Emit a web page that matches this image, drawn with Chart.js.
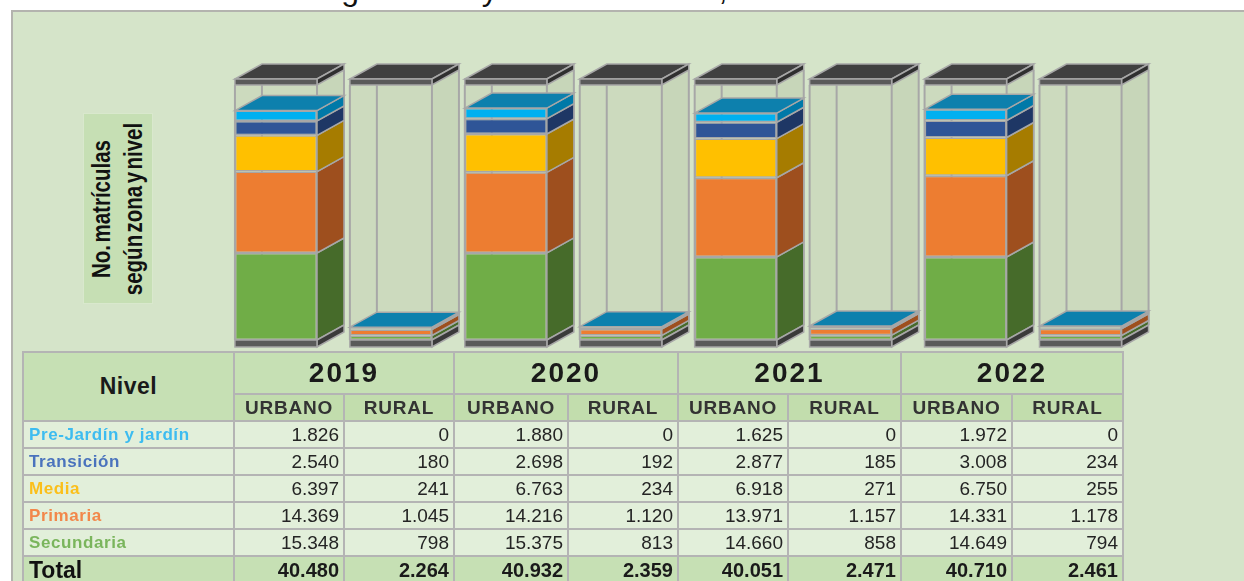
<!DOCTYPE html>
<html>
<head>
<meta charset="utf-8">
<script src="https://cdn.jsdelivr.net/npm/chart.js@4"></script>
<style>
  html, body { margin: 0; padding: 0; }
  body { width: 1244px; height: 581px; position: relative; overflow: hidden; background: #fff; font-family: "Liberation Sans", Arial, sans-serif; }
  #title { position: absolute; left: 151px; top: -27px; font-size: 32px; line-height: 32px; color: #111; white-space: nowrap; }
  #panel { position: absolute; left: 11px; top: 10px; width: 1240px; height: 580px; background: #d5e4c9; border-left: 2px solid #b3b3ae; border-top: 2px solid #b3b3ae; }
  #chart { position: absolute; left: 0; top: 0; }
  #ylabel { position: absolute; left: 83px; top: 113px; width: 70px; height: 191px; background: #c6dfb4; box-sizing: border-box; border: 1px solid #d9e8cd; }
  #ylabel div { position: absolute; left: 50%; top: 50%; width: 230px; margin-left: -115px; margin-top: -33px; height: 66px;
    transform: rotate(-90deg) scale(0.82, 1); text-align: center; font-weight: bold; font-size: 25px; line-height: 32px; color: #111; word-spacing: -4px; }
  table { position: absolute; left: 22px; top: 351px; border-collapse: collapse; table-layout: fixed; border: 2px solid #b2b2b2; }
  td, th { border: 2px solid #b4b4b4; padding: 0 4px; overflow: hidden; white-space: nowrap; }
  th { background: #c6e0b4; color: #1a1a1a; }
  th.nivel { font-size: 23px; letter-spacing: 0.5px; }
  th.year { font-size: 28px; letter-spacing: 2px; height: 40px; }
  th.zone { font-size: 19px; letter-spacing: 0.8px; color: #333; height: 25px; background: #c2ddad; }
  td { background: #e2efda; font-size: 19px; color: #242424; text-align: right; height: 25px; }
  td.lvl { text-align: left; font-weight: bold; font-size: 17px; letter-spacing: 0.6px; padding-left: 5px; }
  tr.total td { background: #c6e0b4; font-weight: bold; font-size: 20px; color: #1a1a1a; height: 27px; }
  tr.total td.lvl { font-size: 23px; color: #111; letter-spacing: 0; }
</style>
</head>
<body>
<div id="title">Matrículas según zona y nivel educativo, 2019-2022</div>
<div id="panel"></div>
<div id="ylabel"><div>No. matrículas<br>según zona y nivel</div></div>
<canvas id="chart" width="1244" height="581"></canvas>
<table id="tbl"></table>
<script>
// categories
const years = ['2019', '2020', '2021', '2022'];
const zones = ['URBANO', 'RURAL'];
const levels = ['Pre-Jardín y jardín', 'Transición', 'Media', 'Primaria', 'Secundaria'];

// values per bar: [2019 U, 2019 R, 2020 U, 2020 R, 2021 U, 2021 R, 2022 U, 2022 R]
const preJardin  = [1826, 0, 1880, 0, 1625, 0, 1972, 0];
const transicion = [2540, 180, 2698, 192, 2877, 185, 3008, 234];
const media      = [6397, 241, 6763, 234, 6918, 271, 6750, 255];
const primaria   = [14369, 1045, 14216, 1120, 13971, 1157, 14331, 1178];
const secundaria = [15348, 798, 15375, 813, 14660, 858, 14649, 794];
const totals     = [40480, 2264, 40932, 2359, 40051, 2471, 40710, 2461];

const yMax = 45000;

// styles
const levelFront = { 'Pre-Jardín y jardín': '#00b0f0', 'Transición': '#2f5597', 'Media': '#ffc000', 'Primaria': '#ed7d31', 'Secundaria': '#70ad47' };
const levelSide  = { 'Pre-Jardín y jardín': '#0079a8', 'Transición': '#1e3765', 'Media': '#a67c00', 'Primaria': '#9e4f1e', 'Secundaria': '#466b2a' };
const levelText  = { 'Pre-Jardín y jardín': '#3dbcf0', 'Transición': '#4a73bd', 'Media': '#fbbf1a', 'Primaria': '#f2874a', 'Secundaria': '#7ab55c' };
const topFaceColor = '#0d80ad';
const EDGE = '#a7a7a7';
const DX = 27, DY = 15;

const labels = [];
years.forEach(y => zones.forEach(z => labels.push(y + ' ' + z)));

const seriesByLevel = {
  'Pre-Jardín y jardín': preJardin,
  'Transición': transicion,
  'Media': media,
  'Primaria': primaria,
  'Secundaria': secundaria
};
// stack from bottom up
const stackOrder = ['Secundaria', 'Primaria', 'Media', 'Transición', 'Pre-Jardín y jardín'];

function poly(ctx, pts, fill, stroke) {
  ctx.beginPath();
  ctx.moveTo(pts[0][0], pts[0][1]);
  for (let k = 1; k < pts.length; k++) ctx.lineTo(pts[k][0], pts[k][1]);
  ctx.closePath();
  if (fill) { ctx.fillStyle = fill; ctx.fill(); }
  if (stroke) { ctx.strokeStyle = stroke; ctx.lineWidth = 1.5; ctx.stroke(); }
}
function line(ctx, x1, y1, x2, y2) {
  ctx.beginPath(); ctx.moveTo(x1, y1); ctx.lineTo(x2, y2);
  ctx.strokeStyle = EDGE; ctx.lineWidth = 2; ctx.stroke();
}

const box3d = {
  id: 'box3d',
  beforeDatasetsDraw(chart) {
    const ctx = chart.ctx, ys = chart.scales.y;
    const top = ys.getPixelForValue(ys.max), base = ys.getPixelForValue(0);
    chart.getDatasetMeta(0).data.forEach(el => {
      const l = el.x - el.width / 2, r = el.x + el.width / 2;
      ctx.save();
      poly(ctx, [[l, top], [l + DX, top - DY], [r + DX, top - DY], [r, top]], '#c9d8bb');
      poly(ctx, [[r, top], [r + DX, top - DY], [r + DX, base - DY], [r, base]], '#c7d6b9');
      ctx.fillStyle = '#ccdabe';
      ctx.fillRect(l, top, r - l, base - top);
      line(ctx, l + DX, top - DY, l + DX, base - DY);
      line(ctx, r + DX, top - DY, r + DX, base - DY);
      line(ctx, l, top, l, base);
      line(ctx, r, top, r, base);
      ctx.restore();
    });
  },
  afterDatasetsDraw(chart) {
    const ctx = chart.ctx, ys = chart.scales.y;
    const top = ys.getPixelForValue(ys.max), base = ys.getPixelForValue(0);
    const n = chart.data.labels.length;
    ctx.save();
    for (let i = 0; i < n; i++) {
      let stackTop = base, l = 0, r = 0;
      chart.data.datasets.forEach((ds, j) => {
        const el = chart.getDatasetMeta(j).data[i];
        l = el.x - el.width / 2; r = el.x + el.width / 2;
        if (el.base - el.y > 0.1) {
          poly(ctx, [[r, el.y], [r + DX, el.y - DY], [r + DX, el.base - DY], [r, el.base]], ds.sideColor, EDGE);
        }
        stackTop = Math.min(stackTop, el.y);
      });
      // top face of the stack
      poly(ctx, [[l, stackTop], [l + DX, stackTop - DY], [r + DX, stackTop - DY], [r, stackTop]], topFaceColor, EDGE);
      // floor band
      poly(ctx, [[r, base], [r + DX, base - DY], [r + DX, base + 7 - DY], [r, base + 7]], '#3a3a3a', EDGE);
      ctx.fillStyle = '#5a5a5a';
      ctx.fillRect(l, base, r - l, 7);
      ctx.strokeStyle = EDGE; ctx.lineWidth = 1.5; ctx.strokeRect(l, base, r - l, 7);
      // top cap
      const t = top - 6;
      poly(ctx, [[l, t], [l + DX, t - DY], [r + DX, t - DY], [r, t]], '#404040', EDGE);
      poly(ctx, [[r, t], [r + DX, t - DY], [r + DX, top - DY], [r, top]], '#2f2f2f', EDGE);
      ctx.fillStyle = '#5a5a5a';
      ctx.fillRect(l, t, r - l, 6);
      ctx.strokeStyle = EDGE; ctx.lineWidth = 1.5; ctx.strokeRect(l, t, r - l, 6);
    }
    ctx.restore();
  }
};

new Chart(document.getElementById('chart'), {
  type: 'bar',
  data: {
    labels: labels,
    datasets: stackOrder.map(name => ({
      label: name,
      data: seriesByLevel[name],
      backgroundColor: levelFront[name],
      sideColor: levelSide[name],
      borderColor: EDGE,
      borderWidth: 1.5,
      borderSkipped: false,
      barPercentage: 0.714,
      categoryPercentage: 1
    }))
  },
  options: {
    responsive: false,
    animation: false,
    layout: { padding: { left: 218.5, right: 106, top: 85, bottom: 241 } },
    scales: {
      x: { stacked: true, display: false, grid: { display: false } },
      y: { stacked: true, display: false, min: 0, max: yMax, grid: { display: false } }
    },
    plugins: { legend: { display: false }, tooltip: { enabled: false } }
  },
  plugins: [box3d]
});

// data table
const fmt = v => String(v).replace(/\B(?=(\d{3})+(?!\d))/g, '.');
const colW = [110, 110, 114, 110, 110, 113, 111, 111];
let html = '<colgroup><col style="width:211px">' + colW.map(w => '<col style="width:' + w + 'px">').join('') + '</colgroup>';
html += '<tr><th class="nivel" rowspan="2">Nivel</th>' + years.map(y => '<th class="year" colspan="2">' + y + '</th>').join('') + '</tr>';
html += '<tr>' + years.map(() => zones.map(z => '<th class="zone">' + z + '</th>').join('')).join('') + '</tr>';
levels.forEach(name => {
  html += '<tr><td class="lvl" style="color:' + levelText[name] + '">' + name + '</td>' +
    seriesByLevel[name].map(v => '<td>' + fmt(v) + '</td>').join('') + '</tr>';
});
html += '<tr class="total"><td class="lvl">Total</td>' + totals.map(v => '<td>' + fmt(v) + '</td>').join('') + '</tr>';
document.getElementById('tbl').innerHTML = html;
</script>
</body>
</html>
